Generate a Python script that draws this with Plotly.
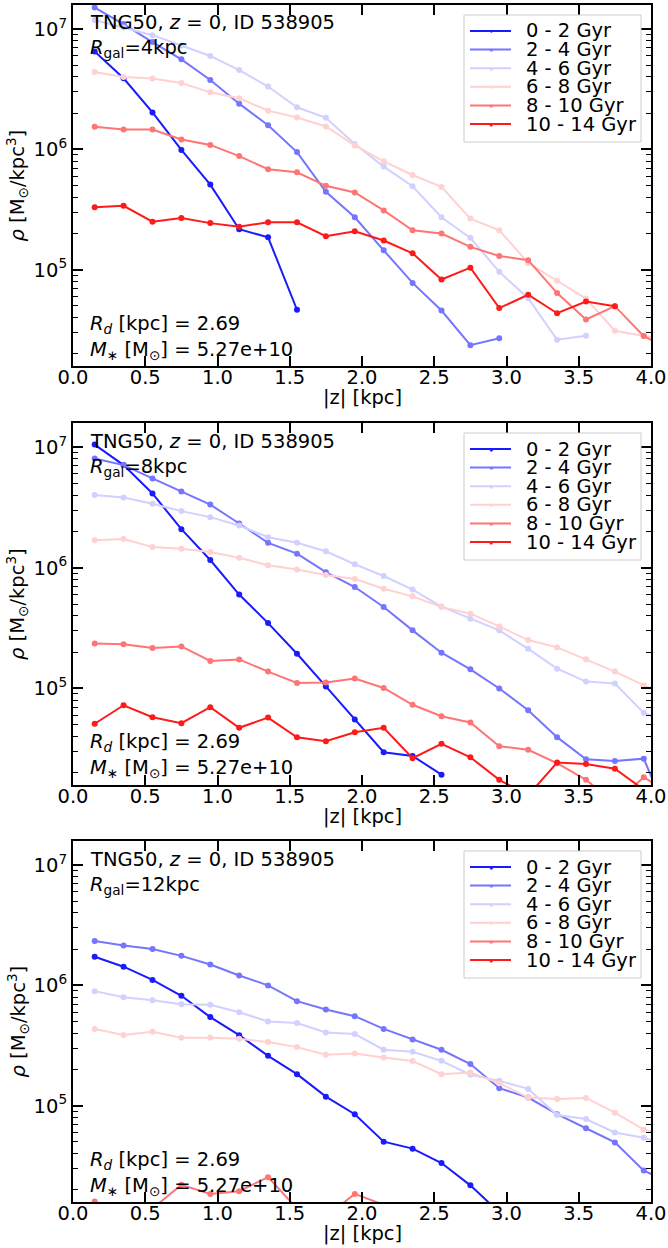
import plotly.graph_objects as go

z = [0.15, 0.35, 0.55, 0.75, 0.95, 1.15, 1.35, 1.55, 1.75, 1.95,
     2.15, 2.35, 2.55, 2.75, 2.95, 3.15, 3.35, 3.55, 3.75, 3.95, 4.15]

labels = ["0 - 2 Gyr", "2 - 4 Gyr", "4 - 6 Gyr", "6 - 8 Gyr", "8 - 10 Gyr", "10 - 14 Gyr"]
colors = ["#1a1aff", "#7575ff", "#d1d1ff", "#ffd1d1", "#ff7575", "#ff1a1a"]

# Panel 1: R_gal = 4 kpc
p1_0_2 = [6.5e6, 3.9e6, 2.03e6, 9.9e5, 5.1e5, 2.17e5, 1.86e5, 4.65e4]
p1_2_4 = [1.51e7, 1.1e7, 7.8e6, 5.6e6, 3.77e6, 2.4e6, 1.59e6, 9.5e5, 4.44e5, 2.73e5,
          1.45e5, 7.77e4, 4.58e4, 2.36e4, 2.7e4]
p1_4_6 = [1.19e7, 1.03e7, 8.9e6, 7.3e6, 5.98e6, 4.56e6, 3.33e6, 2.24e6, 1.83e6, 1.11e6,
          7.2e5, 4.94e5, 2.73e5, 1.84e5, 9.6e4, 5.8e4, 2.62e4, 2.83e4]
p1_6_8 = [4.39e6, 3.99e6, 3.89e6, 3.56e6, 2.98e6, 2.66e6, 2.1e6, 1.84e6, 1.55e6, 1.08e6,
          7.96e5, 6.13e5, 4.88e5, 2.66e5, 2.13e5, 1.14e5, 8.1e4, 5.76e4, 3.11e4, 2.81e4, 2.6e4]
p1_8_10 = [1.54e6, 1.46e6, 1.46e6, 1.21e6, 1.09e6, 8.8e5, 6.84e5, 6.46e5, 4.98e5, 4.39e5,
           3.11e5, 2.13e5, 2.0e5, 1.55e5, 1.3e5, 1.2e5, 6.4e4, 3.86e4, 4.98e4, 2.81e4, 2.1e4]
p1_10_14 = [3.3e5, 3.4e5, 2.51e5, 2.69e5, 2.44e5, 2.28e5, 2.48e5, 2.48e5, 1.9e5, 2.09e5,
            1.75e5, 1.37e5, 8.3e4, 1.04e5, 4.8e4, 6.2e4, 4.35e4, 5.45e4, 4.98e4]

# Panel 2: R_gal = 8 kpc
p2_0_2 = [1.05e7, 7.1e6, 4.13e6, 2.09e6, 1.16e6, 6.0e5, 3.48e5, 1.94e5, 1.04e5, 5.53e4,
          2.96e4, 2.76e4, 1.93e4]
p2_2_4 = [8.05e6, 7.1e6, 5.5e6, 4.29e6, 3.34e6, 2.33e6, 1.61e6, 1.31e6, 9.2e5, 6.93e5,
          4.73e5, 3.03e5, 1.98e5, 1.44e5, 1.0e5, 6.6e4, 3.95e4, 2.59e4, 2.51e4, 2.62e4, 7.0e3]
p2_4_6 = [4.02e6, 3.82e6, 3.39e6, 2.95e6, 2.63e6, 2.24e6, 1.79e6, 1.61e6, 1.37e6, 1.07e6,
          8.55e5, 6.6e5, 4.77e5, 3.79e5, 3.03e5, 2.13e5, 1.46e5, 1.14e5, 1.1e5, 6.28e4, 5.0e4]
p2_6_8 = [1.69e6, 1.73e6, 1.49e6, 1.44e6, 1.35e6, 1.21e6, 1.05e6, 9.66e5, 8.7e5, 8.07e5,
          6.7e5, 5.8e5, 4.73e5, 4.17e5, 3.27e5, 2.52e5, 2.19e5, 1.75e5, 1.38e5, 1.06e5, 8.3e4]
p2_8_10 = [2.36e5, 2.33e5, 2.16e5, 2.23e5, 1.69e5, 1.74e5, 1.38e5, 1.11e5, 1.12e5, 1.21e5,
           1.01e5, 7.33e4, 5.89e4, 5.22e4, 3.32e4, 3.1e4, 2.4e4, 1.75e4, 1.12e4, 1.84e4, 1.3e4]
p2_10_14 = [5.1e4, 7.26e4, 5.78e4, 5.16e4, 7.0e4, 4.72e4, 5.74e4, 3.94e4, 3.66e4, 4.34e4,
            4.72e4, 2.64e4, 3.48e4, 2.69e4, 1.75e4, 1.3e4, 2.43e4, 2.37e4, 2.16e4, 1.45e4]

# Panel 3: R_gal = 12 kpc
p3_0_2 = [1.73e6, 1.43e6, 1.11e6, 8.2e5, 5.45e5, 3.86e5, 2.6e5, 1.83e5, 1.19e5, 8.5e4,
          5.03e4, 4.4e4, 3.34e4, 2.18e4, 1.3e4]
p3_2_4 = [2.34e6, 2.15e6, 2.01e6, 1.76e6, 1.49e6, 1.21e6, 1.0e6, 7.4e5, 6.3e5, 5.55e5,
          4.35e5, 3.55e5, 2.92e5, 2.22e5, 1.4e5, 1.17e5, 8.5e4, 6.5e4, 4.96e4, 2.89e4, 2.24e4]
p3_4_6 = [8.96e5, 7.98e5, 7.54e5, 6.98e5, 6.89e5, 5.99e5, 5.01e5, 4.86e5, 4.06e5, 3.94e5,
          2.92e5, 2.81e5, 2.36e5, 1.81e5, 1.61e5, 1.38e5, 8.37e4, 7.76e4, 6.0e4, 5.42e4, 4.57e4]
p3_6_8 = [4.35e5, 3.88e5, 4.11e5, 3.67e5, 3.67e5, 3.6e5, 3.38e5, 3.07e5, 2.65e5, 2.72e5,
          2.52e5, 2.35e5, 1.83e5, 1.89e5, 1.54e5, 1.17e5, 1.14e5, 1.16e5, 8.75e4, 6.33e4, 5.56e4]
p3_8_10 = [1.6e4, 1.2e4, 1.4e4, 2.2e4, 1.85e4, 1.95e4, 2.55e4, 1.4e4, 1.2e4, 1.85e4,
           1.5e4, 1.1e4]
p3_10_14 = [9e3, 8e3, 7e3, 8e3, 7e3, 6e3]

panels = [
    ([p1_0_2, p1_2_4, p1_4_6, p1_6_8, p1_8_10, p1_10_14], "4"),
    ([p2_0_2, p2_2_4, p2_4_6, p2_6_8, p2_8_10, p2_10_14], "8"),
    ([p3_0_2, p3_2_4, p3_4_6, p3_6_8, p3_8_10, p3_10_14], "12"),
]

W, H = 668, 1248
x0, x1 = 73, 651
ytops = [5, 423, 841]
ybots = [366, 785, 1202]

fig = go.Figure()
FONT = "DejaVu Sans"
FS = 19.5

minor_vals = [m * 10 ** e for e in range(4, 8) for m in range(2, 10)]

for i, (series, rgal) in enumerate(panels):
    xa = "x" if i == 0 else f"x{i+1}"
    ya = "y" if i == 0 else f"y{i+1}"
    ph = ybots[i] - ytops[i]
    for j, vals in enumerate(series):
        fig.add_trace(go.Scatter(
            x=z[:len(vals)], y=vals, mode="lines+markers",
            line=dict(color=colors[j], width=2),
            marker=dict(color=colors[j], size=6),
            name=labels[j], showlegend=False,
            xaxis=xa, yaxis=ya, cliponaxis=True,
        ))
    dom_y = [1 - ybots[i] / H, 1 - ytops[i] / H]
    xkey = "xaxis" if i == 0 else f"xaxis{i+1}"
    ykey = "yaxis" if i == 0 else f"yaxis{i+1}"
    fig.update_layout(**{
        xkey: dict(domain=[x0 / W, x1 / W], anchor=ya, range=[0, 4], automargin=False,
                   tickvals=[0, 0.5, 1, 1.5, 2, 2.5, 3, 3.5, 4],
                   ticktext=["0.0", "0.5", "1.0", "1.5", "2.0", "2.5", "3.0", "3.5", "4.0"],
                   ticks="inside", ticklen=10, tickwidth=1.5, tickcolor="black",
                   ticklabelstandoff=-7,
                   showline=True, linewidth=2, linecolor="black", mirror="allticks",
                   showgrid=False, zeroline=False,
                   tickfont=dict(family=FONT, size=FS, color="black")),
        ykey: dict(domain=dom_y, anchor=xa, type="log", range=[4.2, 7.2], automargin=False,
                   tickvals=[1e4, 1e5, 1e6, 1e7],
                   ticktext=["10<sup>4</sup>", "10<sup>5</sup>", "10<sup>6</sup>", "10<sup>7</sup>"],
                   ticks="inside", ticklen=10, tickwidth=1.5, tickcolor="black",
                   minor=dict(tickvals=minor_vals, ticks="inside", ticklen=5,
                              tickwidth=1.2, tickcolor="black", showgrid=False),
                   showline=True, linewidth=2, linecolor="black", mirror="allticks",
                   showgrid=False, zeroline=False,
                   tickfont=dict(family=FONT, size=FS, color="black")),
    })

    def fy(off, h=ph):
        # off: pixel offset below the top of this panel's plot area
        return 1 - off / h

    ann_font = dict(family=FONT, size=FS, color="black")
    # axis titles
    fig.add_annotation(xref="paper", yref="paper", x=(x0 + x1) / 2 / W,
                       y=1 - (ybots[i] + 31) / H, xanchor="center", yanchor="middle",
                       showarrow=False, text="|z| [kpc]", font=ann_font)
    fig.add_annotation(xref="paper", yref="paper", x=17 / W,
                       y=1 - (ytops[i] + ybots[i]) / 2 / H, xanchor="center", yanchor="middle",
                       showarrow=False, textangle=-90,
                       text="<i>ρ</i> [M<sub>⊙</sub>/kpc<sup>3</sup>]", font=ann_font)
    # in-panel texts
    fig.add_annotation(xref=f"{xa} domain", yref=f"{ya} domain", x=0.026, y=fy(18),
                       xanchor="left", yanchor="middle", showarrow=False,
                       text="TNG50, <i>z</i> = 0, ID 538905", font=ann_font)
    fig.add_annotation(xref=f"{xa} domain", yref=f"{ya} domain", x=0.026, y=fy(44),
                       xanchor="left", yanchor="middle", showarrow=False,
                       text="<i>R</i><sub>gal</sub>=" + rgal + "kpc", font=ann_font)
    fig.add_annotation(xref=f"{xa} domain", yref=f"{ya} domain", x=0.026, y=fy(319),
                       xanchor="left", yanchor="middle", showarrow=False,
                       text="<i>R<sub>d</sub></i> [kpc] = 2.69", font=ann_font)
    fig.add_annotation(xref=f"{xa} domain", yref=f"{ya} domain", x=0.026, y=fy(345),
                       xanchor="left", yanchor="middle", showarrow=False,
                       text="<i>M</i><sub>∗</sub> [M<sub>⊙</sub>] = 5.27e+10", font=ann_font)
    # legend box per panel
    fig.add_shape(type="rect", xref=f"{xa} domain", yref=f"{ya} domain",
                  x0=(464 - x0) / (x1 - x0), x1=(641 - x0) / (x1 - x0),
                  y0=fy(137), y1=fy(10),
                  line=dict(color="#cccccc", width=1), fillcolor="rgba(255,255,255,0.8)",
                  layer="above")
    for j, lab in enumerate(labels):
        yy = fy(26 + 18.6 * j)
        fig.add_shape(type="line", xref=f"{xa} domain", yref=f"{ya} domain",
                      x0=(470 - x0) / (x1 - x0), x1=(511 - x0) / (x1 - x0), y0=yy, y1=yy,
                      line=dict(color=colors[j], width=2), layer="above")
        fig.add_annotation(xref=f"{xa} domain", yref=f"{ya} domain",
                           x=(490.5 - x0) / (x1 - x0), y=yy, showarrow=False, text="●",
                           font=dict(size=7, color=colors[j]), xanchor="center", yanchor="middle")
        fig.add_annotation(xref=f"{xa} domain", yref=f"{ya} domain",
                           x=(524 - x0) / (x1 - x0), y=yy, xanchor="left", yanchor="middle",
                           showarrow=False, text=lab,
                           font=dict(family=FONT, size=FS, color="black"))

fig.update_layout(width=W, height=H, margin=dict(l=0, r=0, t=0, b=0),
                  plot_bgcolor="white", paper_bgcolor="white", showlegend=False)

fig.write_html("out.html")
